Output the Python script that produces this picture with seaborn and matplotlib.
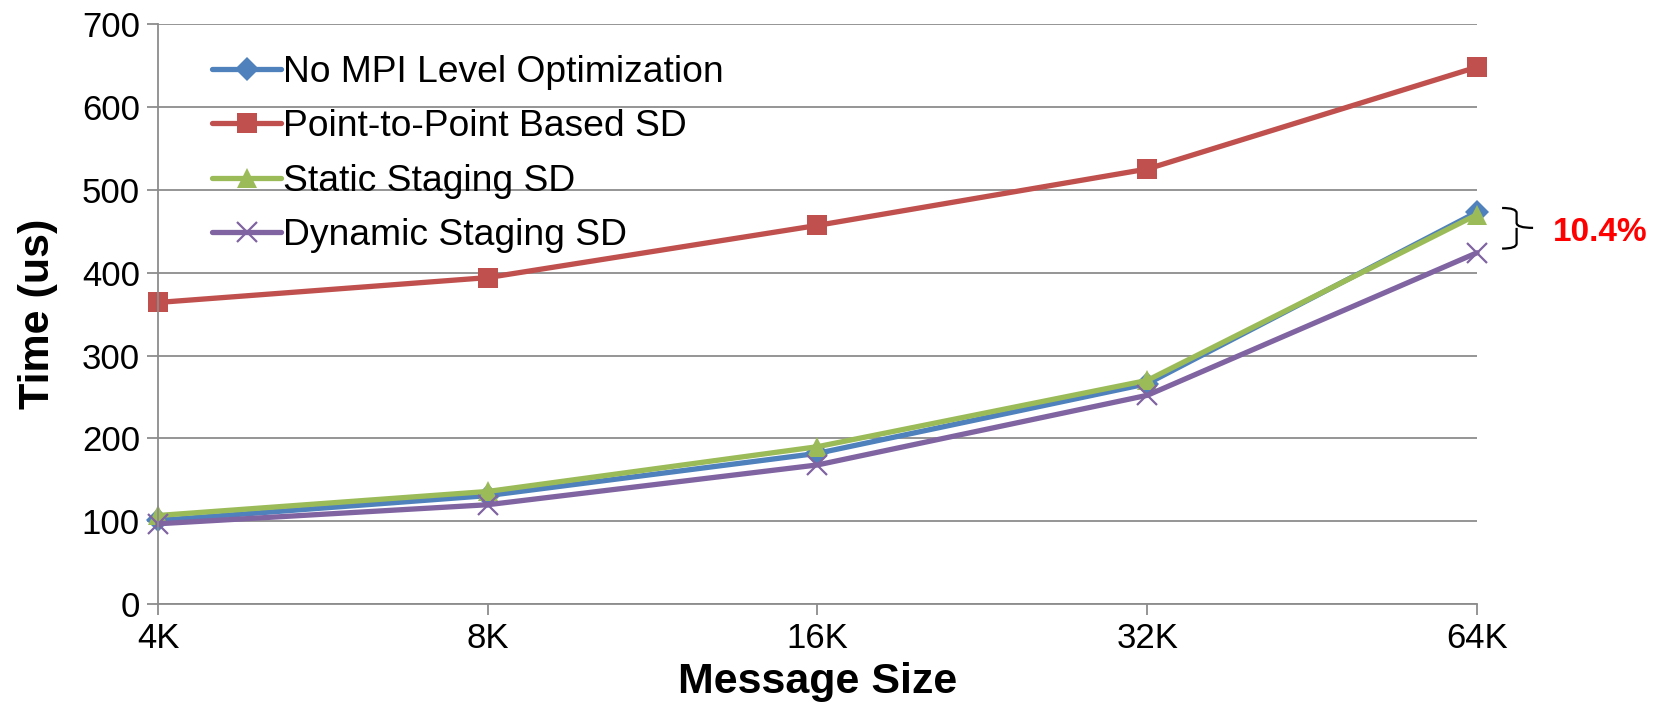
import matplotlib
matplotlib.use("Agg")
import matplotlib.pyplot as plt
import seaborn as sns
import pandas as pd
from matplotlib.path import Path
from matplotlib.patches import PathPatch

# data
sizes = ['4K', '8K', '16K', '32K', '64K']
no_opt = [101, 131, 182, 266, 473]
p2p = [364, 394, 457, 525, 648]
static = [107, 136, 190, 270, 470]
dynamic = [97, 120, 168, 252, 424]

labels = ['No MPI Level Optimization', 'Point-to-Point Based SD',
          'Static Staging SD', 'Dynamic Staging SD']
colors = ['#4F81BD', '#C0504D', '#9BBB59', '#8064A2']
markers = ['D', 's', '^', 'x']
msizes = [12, 14, 14, 15]

sns.set_style("white")
plt.rcParams['font.family'] = ['Liberation Sans', 'DejaVu Sans']
plt.rcParams['text.color'] = 'black'
plt.rcParams['axes.labelcolor'] = 'black'

fig = plt.figure(figsize=(16.54, 7.05), dpi=100)
ax = fig.add_axes([0.0955, 0.143, 0.7975, 0.823])

pos = list(range(len(sizes)))
for vals, lab, col, mk, ms in zip([no_opt, p2p, static, dynamic], labels, colors, markers, msizes):
    df = pd.DataFrame({'pos': pos, 'time': vals})
    sns.lineplot(data=df, x='pos', y='time', ax=ax, color=col, marker=mk,
                 markersize=ms, linewidth=3.8, label=lab, clip_on=False,
                 markeredgecolor=col, markeredgewidth=1.6 if mk == 'x' else 0)

ax.set_xlim(0, len(sizes) - 1)
ax.set_ylim(0, 700)
ax.set_yticks(range(0, 701, 100))
ax.set_xticks(pos)
ax.set_xticklabels(sizes)
ax.yaxis.grid(True, color='#8c8c8c', linewidth=1.3)
ax.set_axisbelow(True)
for s in ['top', 'right']:
    ax.spines[s].set_visible(False)
for s in ['left', 'bottom']:
    ax.spines[s].set_color('#8c8c8c')
    ax.spines[s].set_linewidth(1.3)
ax.tick_params(axis='both', which='both', direction='out', length=8, width=1.3,
               color='#8c8c8c', labelsize=25, labelcolor='black', pad=5)
ax.tick_params(axis='both', left=True, bottom=True)

ax.set_xlabel('Message Size', fontsize=31, fontweight='bold')
ax.set_ylabel('Time (us)', fontsize=31, fontweight='bold')
ax.xaxis.set_label_coords(0.5, -0.099)
ax.yaxis.set_label_coords(-0.076, 0.5)

leg = ax.legend(loc='upper left', bbox_to_anchor=(0.03, 0.972), frameon=False,
                fontsize=26.8, handlelength=1.85, handletextpad=0.05,
                labelspacing=0.52, borderaxespad=0)

# curly brace marking the gap at 64K
bx, vx, tipx = 4.076, 4.12, 4.17
top, bot, mid = 478, 429, 454
r = 6
verts = [(bx, top), (vx, top), (vx, top - r), (vx, mid + r),
         (vx, mid), (tipx, mid),
         (vx, mid), (vx, mid - r), (vx, bot + r),
         (vx, bot), (bx, bot)]
codes = [Path.MOVETO, Path.CURVE3, Path.CURVE3, Path.LINETO, Path.CURVE3, Path.CURVE3,
         Path.MOVETO, Path.CURVE3, Path.LINETO, Path.CURVE3, Path.CURVE3]
ax.add_patch(PathPatch(Path(verts, codes), fill=False, edgecolor='black',
                       linewidth=1.6, clip_on=False))
ax.text(4.23, 449, '10.4%', color='red', fontsize=24, fontweight='bold',
        va='center', ha='left', clip_on=False)

fig.savefig('out.png', dpi=100)
